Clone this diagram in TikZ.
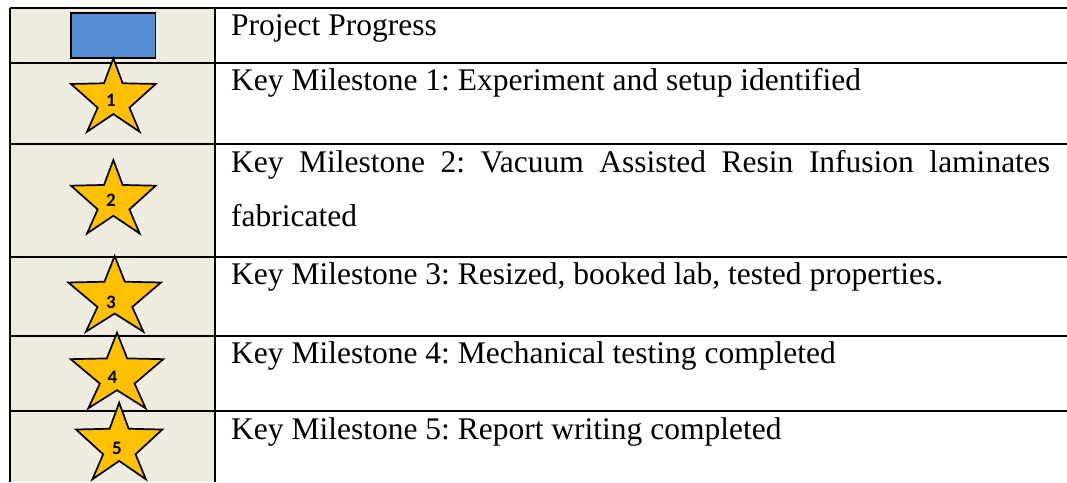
\documentclass[tikz,border=0pt]{standalone}
\usepackage{fontspec}
\setmainfont{Liberation Serif}
\newfontfamily\numfont{Carlito}[BoldFont={* Bold}]
\definecolor{cellbeige}{HTML}{EEECE1}
\definecolor{progblue}{HTML}{558ED5}
\definecolor{stargold}{HTML}{FFC000}
\tikzset{
  gridline/.style={line width=2pt, black},
  starshape/.style={draw=black, line width=1.7pt, fill=stargold, line join=miter},
  progbox/.style={draw=black, line width=1.4pt, fill=progblue, inner sep=0pt,
    minimum width=84.7pt, minimum height=45pt},
  rowtext/.style={anchor=base west, inner sep=0pt,
    font=\fontsize{31.5}{36}\selectfont\frenchspacing},
  starnum/.style={inner sep=0pt, font=\numfont\bfseries\fontsize{19}{22}\selectfont}
}
% star outline inside a box: #1 left, #2 top, #3 width, #4 height
\newcommand\milestarshape[4]{%
  \begin{scope}[shift={(#1,#2)}, xscale=#3, yscale=#4]
    \draw[starshape] (0.5,0) -- (0.61,0.34) -- (1,0.35) -- (0.69,0.673)
      -- (0.81,1) -- (0.5,0.76) -- (0.19,1) -- (0.315,0.673) -- (0,0.35)
      -- (0.39,0.34) -- cycle;
  \end{scope}}
\begin{document}
\begin{tikzpicture}[x=1pt, y=-1pt]
  \useasboundingbox (0,0) rectangle (1067,482);
  \fill[white] (0,0) rectangle (1067,482);
  % shaded key column
  \fill[cellbeige] (10,8) rectangle (215,482);
  % grid coordinates
  \foreach \n/\y in {r0/8, r1/63, r2/144, r3/257, r4/336, r5/411} {
    \coordinate (\n L) at (10,\y);
    \coordinate (\n R) at (1067,\y);
  }
  \coordinate (colTop) at (215,8);
  \coordinate (colBot) at (215,482);
  \coordinate (edgeBot) at (10,482);
  \foreach \n in {r0,r1,r2,r3,r4,r5} { \draw[gridline] (\n L) -- (\n R); }
  \draw[gridline] (r0L) -- (edgeBot);
  \draw[gridline] (colTop) -- (colBot);

  % key symbols
  \node[progbox] (prog) at (113.3,35.5) {};
  \milestarshape{71}{58.3}{84.7}{73.4}
  \milestarshape{71}{160}{84.7}{73.4}
  \milestarshape{68.3}{256}{92.7}{75.7}
  \milestarshape{70.7}{332.7}{92.6}{75.6}
  \milestarshape{76}{402.7}{86.3}{76.6}
  \node[starnum] (n1) at (111,100) {1};
  \node[starnum] (n2) at (111,200) {2};
  \node[starnum] (n3) at (111,302.5) {3};
  \node[starnum] (n4) at (112.5,377.5) {4};
  \node[starnum] (n5) at (117,448) {5};

  % descriptions
  \node[rowtext] (t0) at (231,35.5) {Project Progress};
  \node[rowtext] (t1) at (231,90) {Key Milestone 1: Experiment and setup identified};
  \node[rowtext] (t2a) at (231,172) {\makebox[819pt][s]{Key Milestone 2: Vacuum Assisted Resin Infusion laminates}};
  \node[rowtext] (t2b) at (231,226) {fabricated};
  \node[rowtext] (t3) at (231,284.5) {Key Milestone 3: Resized, booked lab, tested properties.};
  \node[rowtext] (t4) at (231,363.5) {Key Milestone 4: Mechanical testing completed};
  \node[rowtext] (t5) at (231,439) {Key Milestone 5: Report writing completed};
\end{tikzpicture}
\end{document}
